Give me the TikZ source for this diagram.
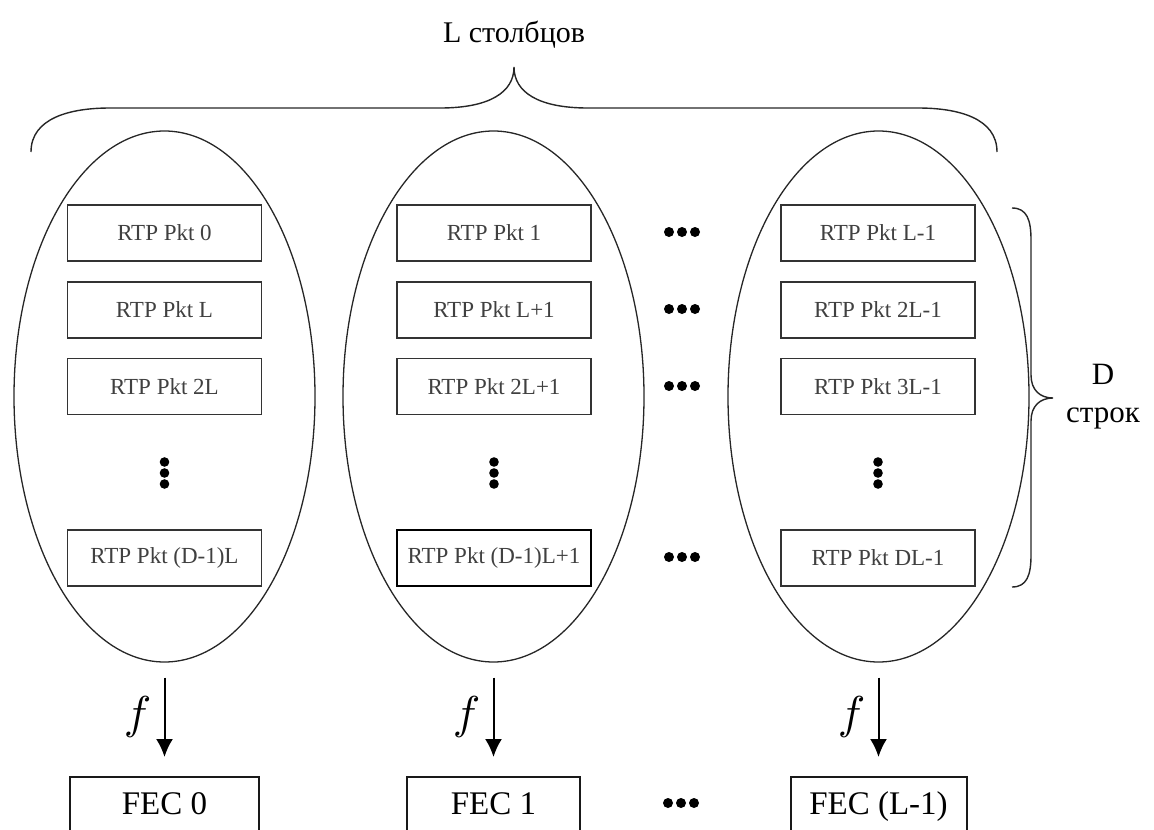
\documentclass[tikz,border=0pt]{standalone}
\usepackage{fontspec}
\setmainfont{Liberation Serif}
\usetikzlibrary{shapes.geometric,arrows.meta}

\tikzset{
  grp/.style={ellipse, draw=black!85, line width=1.3pt, minimum width=301pt,
    minimum height=531pt, inner sep=0pt},
  pkt/.style={draw=black!80, line width=1.8pt, minimum width=194pt,
    minimum height=56pt, inner sep=0pt, text=black!75,
    font=\fontsize{23}{23}\selectfont},
  fec/.style={draw=black!90, line width=2pt, minimum height=58pt, anchor=north,
    inner sep=0pt, text height=23pt, text depth=7pt,
    font=\fontsize{33}{33}\selectfont},
  arr/.style={-{Latex[length=18pt,width=17pt]}, line width=2pt,
    shorten <=15pt, shorten >=19pt},
  flab/.style={xshift=-27pt, yshift=2pt, inner sep=0pt},
  brc/.style={line width=1.4pt, black!85}
}

\begin{document}
\begin{tikzpicture}[x=1pt,y=-1pt]
  \useasboundingbox (0,0) rectangle (1154,830);
  \clip (0,0) rectangle (1154,830);

  % columns
  \node[grp] (grp0) at (164.5,396.5) {};
  \node[grp] (grp1) at (493.5,396.5) {};
  \node[grp] (grp2) at (878.5,396.5) {};

  \node[pkt] (p00) at (164.5,233) {RTP Pkt 0};
  \node[pkt] (p01) at (164.5,310) {RTP Pkt L};
  \node[pkt] (p02) at (164.5,386.5) {RTP Pkt 2L};
  \node[pkt] (p03) at (164.5,558) {RTP Pkt (D-1)L};

  \node[pkt] (p10) at (494,233) {RTP Pkt 1};
  \node[pkt] (p11) at (494,310) {RTP Pkt L+1};
  \node[pkt] (p12) at (494,386.5) {RTP Pkt 2L+1};
  \node[pkt, line width=2.8pt, draw=black] (p13) at (494,558) {RTP Pkt (D-1)L+1};

  \node[pkt] (p20) at (878,233) {RTP Pkt L-1};
  \node[pkt] (p21) at (878,310) {RTP Pkt 2L-1};
  \node[pkt] (p22) at (878,386.5) {RTP Pkt 3L-1};
  \node[pkt] (p23) at (878,558) {RTP Pkt DL-1};

  % dots
  \foreach \y in {232,309,386,557}
    \foreach \dx in {-13,0,13}
      \fill (682+\dx,\y) circle (5pt);
  \foreach \x in {164.5,494,878}
    \foreach \dy in {-11,0,11}
      \fill (\x,473+\dy) circle (4.8pt);
  \foreach \dx in {-13,0,13}
    \fill (681+\dx,803) circle (5pt);

  % FEC packets
  \node[fec, minimum width=189pt] (fec0) at (164.5,776) {FEC 0};
  \node[fec, minimum width=173pt] (fec1) at (493.5,776) {FEC 1};
  \node[fec, minimum width=176pt] (fecL) at (878.5,776) {FEC (L-1)};

  \draw[arr] (grp0) -- node[flab] (f0) {\scalebox{4.6}{$f$}} (fec0);
  \draw[arr] (grp1) -- node[flab] (f1) {\scalebox{4.6}{$f$}} (fec1);
  \draw[arr] (grp2) -- node[flab] (f2) {\scalebox{4.6}{$f$}} (fecL);

  % braces
  \draw[brc] (31,152) .. controls (31,118) and (70,108) .. (110,108) -- (440,108)
    .. controls (490,108) and (514,92) .. (514,67)
    .. controls (514,92) and (538,108) .. (588,108) -- (918,108)
    .. controls (958,108) and (997,118) .. (997,152);
  \draw[brc] (1012,208) .. controls (1027,208) and (1031,220) .. (1031,240) -- (1031,375)
    .. controls (1031,390) and (1040,398) .. (1053,398)
    .. controls (1040,398) and (1031,406) .. (1031,421) -- (1031,555)
    .. controls (1031,575) and (1027,587) .. (1012,587);

  \node[anchor=base, font=\fontsize{30}{30}\selectfont] (ltop) at (514,42) {L столбцов};
  \node[align=center, font=\fontsize{31}{38}\selectfont] (drows) at (1103,397) {D\\строк};
\end{tikzpicture}
\end{document}
